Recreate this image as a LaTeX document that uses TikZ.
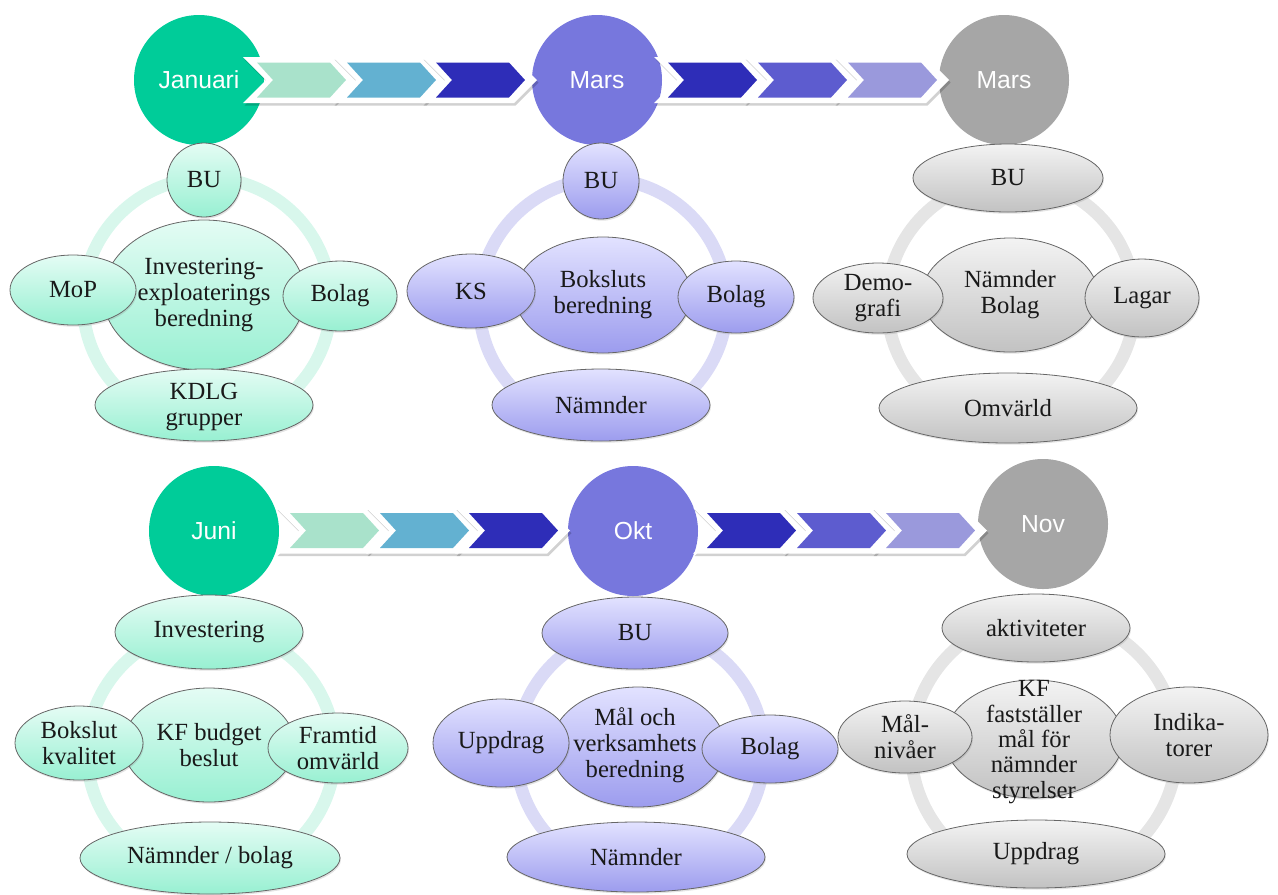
\documentclass[tikz,border=0pt]{standalone}
\usepackage{fontspec}
\setmainfont{Liberation Serif}
\newfontfamily\headfont{Liberation Sans}
\usetikzlibrary{shapes.geometric,shadows}

% header discs
\definecolor{hdTeal}{HTML}{00CC99}
\definecolor{hdPurple}{HTML}{7777DD}
\definecolor{hdGray}{HTML}{A6A6A6}
% process chevrons
\definecolor{chA}{HTML}{A9E2CB}
\definecolor{chB}{HTML}{63B1D1}
\definecolor{chC}{HTML}{2E2DB8}
\definecolor{chD}{HTML}{5D5CCF}
\definecolor{chE}{HTML}{9A99DC}
% bubble gradients
\definecolor{tTop}{HTML}{E4FCF4}
\definecolor{tBot}{HTML}{98F0D2}
\definecolor{pTop}{HTML}{E2E2FF}
\definecolor{pBot}{HTML}{9C9CEE}
\definecolor{gTop}{HTML}{F3F3F3}
\definecolor{gBot}{HTML}{C2C2C2}
% rings
\definecolor{rTeal}{HTML}{D8F7EC}
\definecolor{rPurple}{HTML}{DADAF6}
\definecolor{rGray}{HTML}{E5E5E5}

\tikzset{
  hdr/.style={circle, minimum size=97.5pt, inner sep=0pt, text=white,
    font=\headfont\fontsize{18.5}{20}\selectfont},
  bub/.style={ellipse, inner sep=0pt, outer sep=0pt, draw=black!60, line width=0.6pt,
    drop shadow={shadow xshift=0.7pt, shadow yshift=-1.3pt, opacity=0.22}},
  tbub/.style={bub, top color=tTop, bottom color=tBot},
  pbub/.style={bub, top color=pTop, bottom color=pBot},
  gbub/.style={bub, top color=gTop, bottom color=gBot},
  lbl/.style={align=center, inner sep=0pt, text=black!90,
    font=\fontsize{18.5}{19.5}\selectfont},
  ringline/.style={line width=9.5pt},
}

% name, x, y, half width, half height, style, text
\newcommand\bubble[7]{%
  \node[#6, minimum width=#4*1.5pt, minimum height=#5*1.5pt] (#1) at (#2,#3) {};
  \node[lbl] (#1-t) at (#1) {#7};}

% chevron: back edge x, centre y, colour
\newcommand\chevbox[3]{%
  \begin{scope}[shift={(#1,#2)}]
    \fill[black, opacity=0.18] (-12.5,-20.5) -- (79.5,-20.5) -- (102.5,2.5) -- (79.5,25.5)
      -- (-12.5,25.5) -- (10.5,2.5) -- cycle;
    \fill[white] (-14,-23) -- (78,-23) -- (101,0) -- (78,23) -- (-14,23) -- (9,0) -- cycle;
    \fill[#3] (0,-17.5) -- (73,-17.5) -- (89,0) -- (73,17.5) -- (0,17.5) -- (16,0) -- cycle;
  \end{scope}}

\begin{document}
\begin{tikzpicture}[x=0.75pt,y=-0.75pt]
\useasboundingbox (0,0) rectangle (1278,894);

% ---------- header discs ----------
\node[hdr, fill=hdTeal]   (jan)  at (199,80)  {Januari};
\node[hdr, fill=hdPurple] (mar1) at (597,80)  {Mars};
\node[hdr, fill=hdGray]   (mar2) at (1004,80) {Mars};
\node[hdr, fill=hdTeal]   (jun)  at (214,531) {Juni};
\node[hdr, fill=hdPurple] (okt)  at (633,531) {Okt};
\node[hdr, fill=hdGray]   (nov)  at (1043,524) {Nov};

% ---------- chevrons ----------
\chevbox{257}{80}{chA}
\chevbox{347}{80}{chB}
\chevbox{436}{80}{chC}
\chevbox{668}{80}{chC}
\chevbox{758}{80}{chD}
\chevbox{848}{80}{chE}

\chevbox{290}{530.5}{chA}
\chevbox{380}{530.5}{chB}
\chevbox{469}{530.5}{chC}
\chevbox{707}{530.5}{chC}
\chevbox{797}{530.5}{chD}
\chevbox{886}{530.5}{chE}

% ---------- Januari ----------
\draw[ringline, rTeal] (207,302) circle[radius=124];
\bubble{a0}{204}{295}{101}{75}{tbub}{Investering-\\exploaterings\\beredning}
\bubble{a1}{204}{180}{37}{37}{tbub}{BU}
\bubble{a2}{73}{290}{63}{35}{tbub}{MoP}
\bubble{a3}{340}{296}{57}{35}{tbub}{Bolag}
\node[tbub, minimum width=109*1.5pt, minimum height=36*1.5pt] (a4) at (204,405) {};
\node[lbl] (a4-t) at (204,407) {KDLG\\grupper};

% ---------- Mars (purple) ----------
\draw[ringline, rPurple] (603,303) circle[radius=124];
\bubble{b0}{603}{295}{88}{58}{pbub}{Boksluts\\beredning}
\bubble{b1}{601}{181}{38}{38}{pbub}{BU}
\bubble{b2}{471}{291}{64}{37}{pbub}{KS}
\bubble{b3}{736}{297}{58}{36}{pbub}{Bolag}
\bubble{b4}{601}{405}{109}{36}{pbub}{Nämnder}

% ---------- Mars (gray) ----------
\draw[ringline, rGray] (1011,303) circle[radius=124];
\bubble{c0}{1010}{295}{88}{57}{gbub}{Nämnder\\Bolag}
\bubble{c1}{1008}{178}{95}{34}{gbub}{BU}
\bubble{c2}{878}{298}{65}{35}{gbub}{Demo-\\grafi}
\bubble{c3}{1142}{298}{57}{39}{gbub}{Lagar}
\bubble{c4}{1008}{408}{129}{35}{gbub}{Omvärld}

% ---------- Juni ----------
\draw[ringline, rTeal] (211,752) circle[radius=124];
\bubble{d0}{209}{745}{86}{57}{tbub}{KF budget\\beslut}
\bubble{d1}{209}{632}{94}{37}{tbub}{Investering}
\bubble{d2}{79}{743}{64}{37}{tbub}{Bokslut\\kvalitet}
\bubble{d3}{338}{748}{70}{35}{tbub}{Framtid\\omvärld}
\bubble{d4}{210}{858}{130}{36}{tbub}{Nämnder / bolag}

% ---------- Okt ----------
\draw[ringline, rPurple] (640,752) circle[radius=124];
\node[pbub, minimum width=87*1.5pt, minimum height=60*1.5pt] (e0) at (638,747) {};
\node[lbl] (e0-t) at (635,745) {Mål och\\verksamhets\\beredning};
\bubble{e1}{635}{633}{93}{36}{pbub}{BU}
\bubble{e2}{501}{743}{68}{44}{pbub}{Uppdrag}
\bubble{e3}{770}{749}{68}{34}{pbub}{Bolag}
\bubble{e4}{636}{857}{129}{35}{pbub}{Nämnder}

% ---------- Nov ----------
\draw[ringline, rGray] (1044,748) circle[radius=133];
\node[gbub, minimum width=89*1.5pt, minimum height=59*1.5pt] (f0) at (1034,739) {};
\node[lbl, font=\fontsize{18.5}{19}\selectfont] (f0-t) at (1034,742)
  {KF\\fastställer\\mål för\\nämnder\\styrelser};
\bubble{f1}{1036}{628}{94}{34}{gbub}{aktiviteter}
\bubble{f2}{905}{737}{67}{36}{gbub}{Mål-\\nivåer}
\bubble{f3}{1189}{735}{79}{48}{gbub}{Indika-\\torer}
\bubble{f4}{1036}{854}{129}{34}{gbub}{Uppdrag}

\end{tikzpicture}
\end{document}
